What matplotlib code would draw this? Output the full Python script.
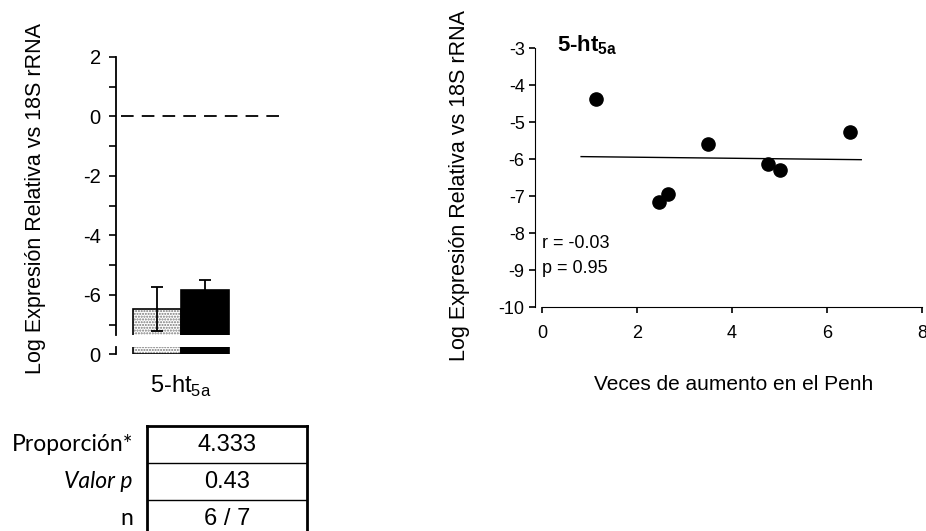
import numpy as np
import matplotlib

matplotlib.use("Agg")
from matplotlib import pyplot as plt

plt.rcParams["font.family"] = ["Liberation Sans", "DejaVu Sans"]
plt.rcParams["mathtext.fontset"] = "custom"
plt.rcParams["mathtext.rm"] = "Liberation Sans"
plt.rcParams["mathtext.bf"] = "Liberation Sans:bold"
plt.rcParams["axes.unicode_minus"] = False

# bar chart data
gene_label = r"5-ht$_{\mathrm{5a}}$"
gene_label_bold = r"5-ht$_{\mathbf{5a}}$"
bar_means = [-6.47, -5.83]
bar_errors = [0.73, 0.33]

# scatter data (fold increase in Penh vs log expression)
penh_fold = [1.14, 2.47, 2.64, 3.50, 4.75, 5.00, 6.48]
log_expr = [-4.39, -7.17, -6.95, -5.60, -6.14, -6.31, -5.27]
fit_range = [0.82, 6.72]
stats_text = ["r = -0.03", "p = 0.95"]

# summary table
row_labels = ["Proporción*", "Valor p", "n"]
row_values = ["4.333", "0.43", "6 / 7"]

ylabel = "Log Expresión Relativa vs 18S rRNA"

fig = plt.figure(figsize=(9.26, 5.31), dpi=100)

# ---- left: broken-axis bar chart ----
ax_top = fig.add_axes([0.1253, 0.3691, 0.1771, 0.5236])
ax_bot = fig.add_axes([0.1253, 0.3333, 0.1771, 0.0132])
xpos = np.arange(len(bar_means))
base = -30
for ax, lo, hi in [(ax_top, -7.35, 2), (ax_bot, 0, 1)]:
    if ax is ax_top:
        heights = [m - base for m in bar_means]
        bottom = base
    else:
        heights = [50, 50]
        bottom = 0
    ax.bar(xpos[0], heights[0], 1, bottom=bottom, color="white",
           edgecolor="#777777", hatch="......", linewidth=0)
    ax.bar(xpos[0], heights[0], 1, bottom=bottom, fill=False,
           edgecolor="black", linewidth=1.2)
    ax.bar(xpos[1], heights[1], 1, bottom=bottom, color="black",
           edgecolor="black", linewidth=1.2)
    ax.set_xlim(-0.85, 2.57)
    ax.set_ylim(lo, hi)
    for s in ["top", "right", "bottom"]:
        ax.spines[s].set_visible(False)
    ax.spines["left"].set_linewidth(1.3)
    ax.tick_params(axis="y", direction="out", length=5, width=1.2,
                   labelsize=14.5, pad=6)

ax_top.errorbar(xpos, bar_means, yerr=bar_errors, fmt="none",
                ecolor="black", elinewidth=1.3, capsize=4, capthick=1.3)
ax_top.axhline(0, xmin=0.03, xmax=1, color="black", lw=1.3, dashes=(7, 4.5))
ax_top.set_yticks([2, 0, -2, -4, -6])
ax_top.set_yticks([1, -1, -3, -5, -7], minor=True)
ax_top.tick_params(axis="y", which="minor", direction="out", length=5, width=1.2)
ax_top.set_xticks([])
ax_top.set_ylabel(ylabel, fontsize=15.5)
ax_top.yaxis.set_label_coords(-0.43, 0.49)

ax_bot.set_yticks([0])
ax_bot.set_xticks([0.5])
ax_bot.set_xticklabels([gene_label], fontsize=17)
ax_bot.tick_params(axis="x", length=0, pad=14)

# ---- summary table ----
ax_t = fig.add_axes([0.1587, -0.0113, 0.1728, 0.209])
ax_t.set_xlim(0, 1)
ax_t.set_ylim(0, len(row_labels))
ax_t.set_xticks([])
ax_t.set_yticks([])
for s in ax_t.spines.values():
    s.set_linewidth(2)
for i in range(1, len(row_labels)):
    ax_t.axhline(i, color="black", lw=1)
for i, (lab, val) in enumerate(zip(row_labels, row_values)):
    yc = len(row_labels) - i - 0.5
    ax_t.text(0.5, yc, val, ha="center", va="center", fontsize=17)
    ax_t.text(-0.0875, yc, lab, ha="right", va="center", fontsize=16.5,
              family="Lato", style="italic" if lab == "Valor p" else "normal",
              transform=ax_t.get_yaxis_transform())

# ---- right: scatter with regression ----
ax2 = fig.add_axes([0.5778, 0.4218, 0.4179, 0.4878])
ax2.plot(penh_fold, log_expr, "o", color="black", markersize=9.5)
slope, intercept = np.polyfit(penh_fold, log_expr, 1)
fx = np.array(fit_range)
ax2.plot(fx, slope * fx + intercept, color="black", lw=1)
ax2.set_xlim(-0.15, 8)
ax2.set_ylim(-10, -3)
ax2.set_xticks([0, 2, 4, 6, 8])
ax2.set_yticks(range(-10, -2))
ax2.spines["top"].set_visible(False)
ax2.spines["right"].set_visible(False)
ax2.spines["bottom"].set_bounds(0, 8)
ax2.tick_params(direction="out", length=4, width=1.2, labelsize=13)
ax2.tick_params(axis="x", pad=9)
ax2.set_xlabel("Veces de aumento en el Penh", fontsize=15)
ax2.xaxis.set_label_coords(0.512, -0.263)
ax2.set_ylabel(ylabel, fontsize=15.5)
ax2.yaxis.set_label_coords(-0.168, 0.47)
ax2.text(0.057, 1.012, gene_label_bold, transform=ax2.transAxes, fontsize=16,
         fontweight="bold", va="center", ha="left")
ax2.text(0.018, 0.247, stats_text[0], transform=ax2.transAxes, fontsize=13,
         va="center")
ax2.text(0.018, 0.147, stats_text[1], transform=ax2.transAxes, fontsize=13,
         va="center")

fig.savefig("out.png", dpi=100)
